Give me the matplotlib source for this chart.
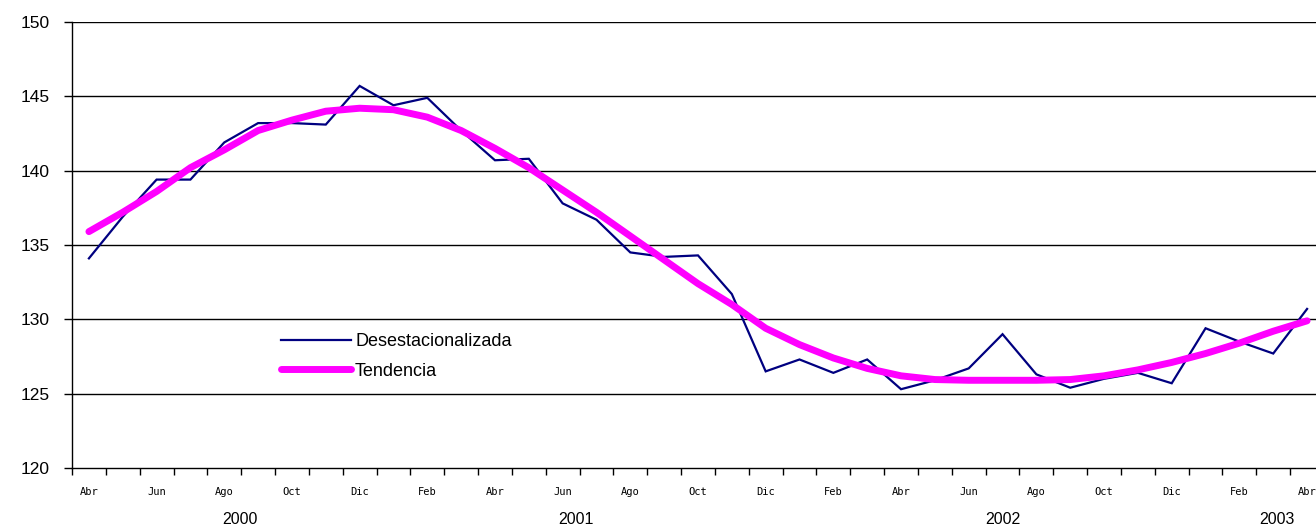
import matplotlib
matplotlib.use("Agg")
import matplotlib.pyplot as plt
import numpy as np

months = ["Abr", "May", "Jun", "Jul", "Ago", "Sep", "Oct", "Nov", "Dic", "Ene", "Feb", "Mar"]
month_labels = [months[i % 12] for i in range(37)]  # Abr 2000 .. Abr 2003

desestacionalizada = [134.1, 136.9, 139.4, 139.4, 141.9, 143.2, 143.2, 143.1, 145.7, 144.4,
                      144.9, 142.7, 140.7, 140.8, 137.8, 136.7, 134.5, 134.2, 134.3, 131.7,
                      126.5, 127.3, 126.4, 127.3, 125.3, 125.9, 126.7, 129.0, 126.3, 125.4,
                      126.0, 126.4, 125.7, 129.4, 128.5, 127.7, 130.7]
tendencia = [135.9, 137.2, 138.6, 140.2, 141.4, 142.7, 143.4, 144.0, 144.2, 144.1,
             143.6, 142.7, 141.5, 140.2, 138.7, 137.2, 135.6, 134.0, 132.4, 131.0,
             129.4, 128.3, 127.4, 126.7, 126.2, 125.95, 125.9, 125.9, 125.9, 125.95,
             126.2, 126.6, 127.1, 127.7, 128.4, 129.2, 129.9]
years = ["2000", "2001", "2002", "2003"]
year_pos = [4.45, 14.4, 27.0, 35.1]
yticks = [120, 125, 130, 135, 140, 145, 150]

W, H = 1316, 526
fig = plt.figure(figsize=(W / 100, H / 100), dpi=100)
ax = fig.add_axes([72 / W, (H - 468) / H, (1324 - 72) / W, (468 - 22) / H])

x = np.arange(len(desestacionalizada))
ax.plot(x, desestacionalizada, color="#000080", lw=1.6, label="Desestacionalizada", zorder=3,
        solid_joinstyle="miter")
ax.plot(x, tendencia, color="#FF00FF", lw=5, label="Tendencia", zorder=4,
        solid_capstyle="round")

ax.set_xlim(-0.5, len(x) - 0.5)
ax.set_ylim(120, 150)
ax.set_yticks(yticks)
ax.set_yticklabels([str(v) for v in yticks], fontsize=12.5, family="Liberation Sans")
for v in yticks[1:]:
    ax.axhline(v, color="black", lw=1.0, zorder=1)

ax.set_xticks(np.arange(-0.5, len(x) + 0.5, 1.0))
ax.set_xticklabels([])
ax.set_xticks(x[::2], minor=True)
ax.set_xticklabels(month_labels[::2], minor=True, fontsize=7.5, family="DejaVu Sans Mono")
ax.tick_params(axis="x", which="major", direction="out", length=5, width=1, color="black")
ax.tick_params(axis="x", which="minor", length=0, pad=14)
ax.tick_params(axis="y", direction="out", length=6, width=1, pad=10)

for s in ["top", "right"]:
    ax.spines[s].set_visible(False)
for s in ["left", "bottom"]:
    ax.spines[s].set_color("black")
    ax.spines[s].set_linewidth(1.0)

for yr, p in zip(years, year_pos):
    ax.text(p, -0.115, yr, transform=ax.get_xaxis_transform(), ha="center", va="center",
            fontsize=11.5, family="Liberation Sans")

leg = fig.legend(loc="upper left", bbox_to_anchor=(281 / W, 1 - 333 / H), frameon=False,
                 handlelength=3.9, handletextpad=0.2, labelspacing=0.7,
                 borderpad=0, borderaxespad=0, prop={"family": "Liberation Sans", "size": 13})

fig.savefig("out.png", dpi=100)
